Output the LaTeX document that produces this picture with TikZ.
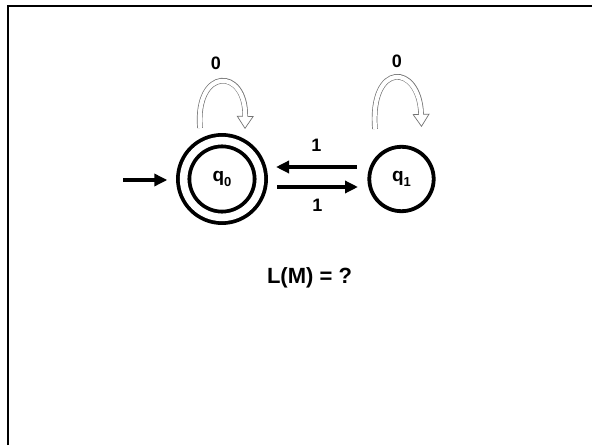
\documentclass[tikz,border=0pt]{standalone}
\usepackage{fontspec}
\setmainfont{Liberation Sans}
\usepackage{tikz}
\usetikzlibrary{arrows.meta,positioning}

\newcommand{\stname}[1]{q{\fontsize{13}{13}\selectfont\raisebox{-5pt}{#1}}}

\tikzset{
    vstate/.style={circle, draw, line width=3.8pt, minimum size=64.4pt, inner sep=0pt,
        font=\bfseries\fontsize{19}{19}\selectfont},
    accept/.style={double, double distance=7.6pt, minimum size=76.7pt},
    trans/.style={line width=4pt, -{Triangle[length=13pt,width=12pt]}},
    loopband/.style={draw=black!55, line width=5.6pt,
        -{Triangle[open,fill=white,length=13pt,width=17pt,line width=0.7pt]},
        postaction={draw=white, line width=4.2pt, -, shorten >=12pt}},
    lbl/.style={font=\bfseries\fontsize{18}{18}\selectfont, inner sep=0pt},
    caption/.style={font=\bfseries\fontsize{22}{22}\selectfont, inner sep=0pt},
}

\begin{document}
\begin{tikzpicture}[x=1pt, y=1pt]
    \useasboundingbox (0,0) rectangle (592,445);
    \draw[line width=2pt] (7.8,0) -- (7.8,439) -- (592,439);

    \node[vstate, accept] (q0) at (222,266) {\stname{0}};
    \node[vstate] (q1) at ([xshift=179.5pt]q0.center) {\stname{1}};

    \coordinate (start) at ([xshift=-99pt,yshift=-1pt]q0.center);
    \draw[trans] (start) -- ([xshift=-54.7pt,yshift=-1pt]q0.center);

    \draw[trans] ([xshift=-44.8pt,yshift=12pt]q1.center) -- node[lbl, above=13.5pt] (t10) {1} ([xshift=54pt,yshift=12pt]q0.center);
    \draw[trans] ([xshift=55pt,yshift=-8pt]q0.center) -- node[lbl, below=10pt] (t01) {1} ([xshift=-43.5pt,yshift=-8pt]q1.center);

    \draw[loopband] ([shift={(-22,51)}]q0.center) .. controls ([shift={(-27,112)}]q0.center) and ([shift={(24,112)}]q0.center) .. ([shift={(23,50)}]q0.center);
    \node[lbl] (l00) at ([shift={(-6,116)}]q0.center) {0};
    \draw[loopband] ([shift={(-26.5,50)}]q1.center) .. controls ([shift={(-32,118)}]q1.center) and ([shift={(18,116)}]q1.center) .. ([shift={(20,52)}]q1.center);
    \node[lbl] (l11) at ([shift={(-4.5,117.3)}]q1.center) {0};

    \node[caption] (lang) at ([shift={(87.5,-99)}]q0.center) {L(M) = ?};
\end{tikzpicture}
\end{document}
